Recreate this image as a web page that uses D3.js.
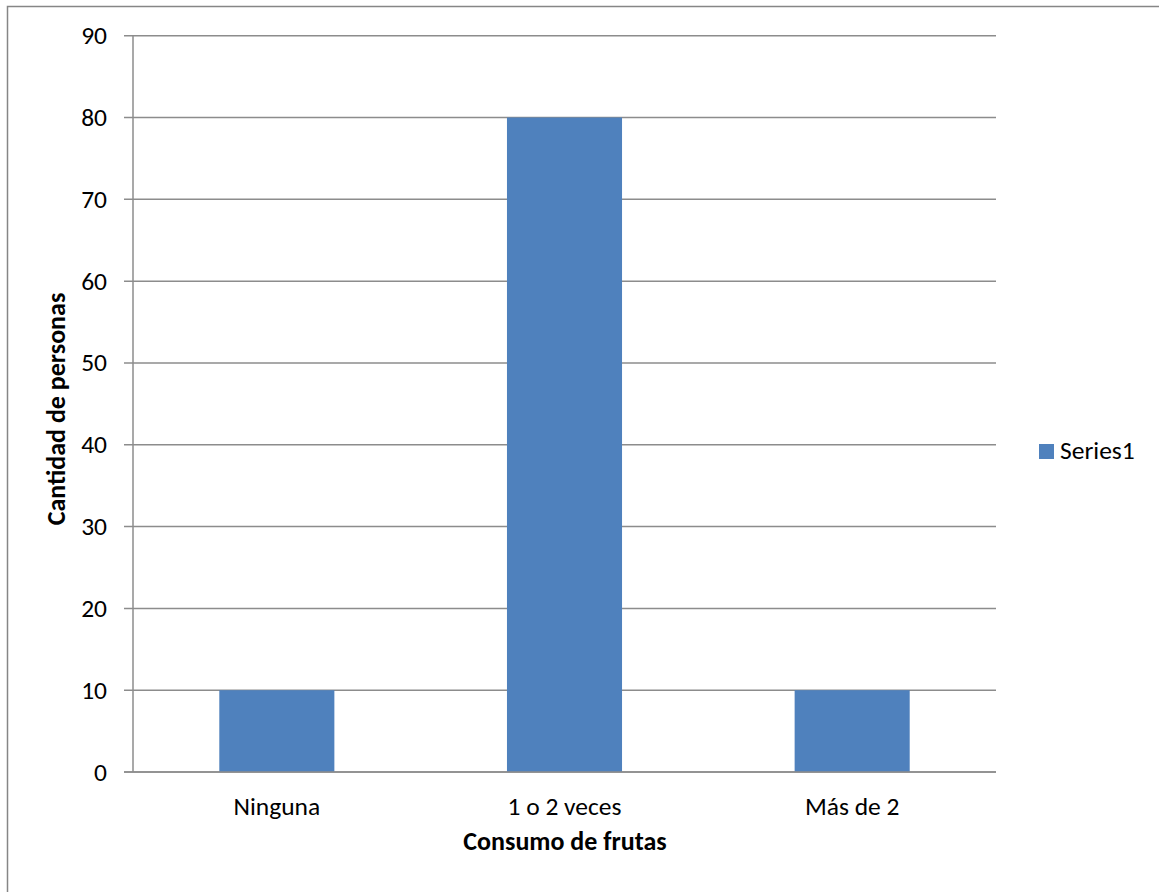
<!DOCTYPE html>
<html>
<head>
<meta charset="utf-8">
<script src="https://cdn.jsdelivr.net/npm/d3@7"></script>
<style>
  html, body { margin: 0; padding: 0; background: #fff; }
  svg { display: block; }
  text { font-family: Carlito, Calibri, Lato, sans-serif; fill: #000; }
</style>
</head>
<body>
<svg id="chart" width="1159" height="892"></svg>
<script>
const categories = ["Ninguna", "1 o 2 veces", "Más de 2"];
const values = [10, 80, 10];
const yTicks = [0, 10, 20, 30, 40, 50, 60, 70, 80, 90];
const seriesName = "Series1";
const xTitle = "Consumo de frutas";
const yTitle = "Cantidad de personas";

const svg = d3.select("#chart");
const W = 1159, H = 892;
const gridColor = "#8c8c8c";
const barColor = "#4F81BD";

// outer chart border (right and bottom fall outside the picture)
svg.append("rect")
  .attr("x", 7.5).attr("y", 6.5)
  .attr("width", W + 10).attr("height", H + 10)
  .attr("fill", "#fff")
  .attr("stroke", "#868686").attr("stroke-width", 1.5);

const plot = { left: 133, right: 996, top: 35.7, bottom: 772 };

const x = d3.scaleBand().domain(categories).range([plot.left, plot.right]).padding(0);
const y = d3.scaleLinear().domain([0, 90]).range([plot.bottom, plot.top]);

// gridlines
svg.append("g").selectAll("line").data(yTicks).join("line")
  .attr("x1", plot.left - 9).attr("x2", plot.right)
  .attr("y1", d => y(d)).attr("y2", d => y(d))
  .attr("stroke", gridColor).attr("stroke-width", 1.5);

// y axis line
svg.append("line")
  .attr("x1", plot.left).attr("x2", plot.left)
  .attr("y1", plot.top).attr("y2", plot.bottom)
  .attr("stroke", gridColor).attr("stroke-width", 1.5);

// bars
const barW = x.bandwidth() * 0.4;
svg.append("g").selectAll("rect").data(values).join("rect")
  .attr("x", (d, i) => x(categories[i]) + x.bandwidth() / 2 - barW / 2)
  .attr("width", barW)
  .attr("y", d => y(d))
  .attr("height", d => y(0) - y(d))
  .attr("fill", barColor);

// x axis line redraw on top
svg.append("line")
  .attr("x1", plot.left - 9).attr("x2", plot.right)
  .attr("y1", y(0)).attr("y2", y(0))
  .attr("stroke", gridColor).attr("stroke-width", 1.5);

// y tick labels
svg.append("g").selectAll("text").data(yTicks).join("text")
  .attr("x", 107).attr("y", d => y(d))
  .attr("text-anchor", "end").attr("dominant-baseline", "central")
  .style("font-size", "25.5px")
  .text(d => d);

// x tick labels
svg.append("g").selectAll("text").data(categories).join("text")
  .attr("x", d => x(d) + x.bandwidth() / 2).attr("y", 815)
  .attr("text-anchor", "middle")
  .style("font-size", "25.5px")
  .text(d => d);

// x title
svg.append("text")
  .attr("x", 565).attr("y", 850)
  .attr("text-anchor", "middle")
  .style("font-size", "26px").style("font-weight", "bold")
  .text(xTitle);

// y title
svg.append("text")
  .attr("transform", "translate(65,409) rotate(-90)")
  .attr("text-anchor", "middle")
  .style("font-size", "26px").style("font-weight", "bold")
  .text(yTitle);

// legend
const lg = svg.append("g").attr("transform", "translate(1039,444)");
lg.append("rect").attr("width", 15).attr("height", 15).attr("fill", barColor);
lg.append("text").attr("x", 21).attr("y", 15)
  .style("font-size", "25.5px").text(seriesName);
</script>
</body>
</html>
